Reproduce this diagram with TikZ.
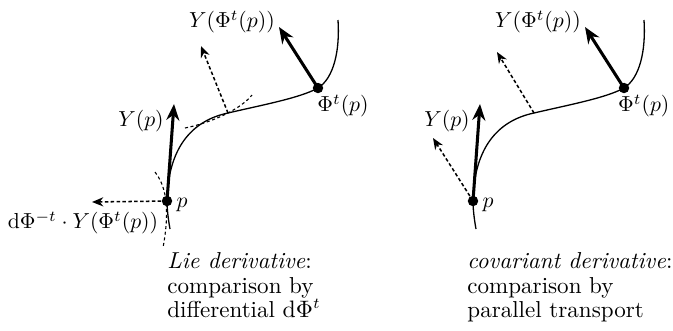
\documentclass[tikz,border=0pt]{standalone}
\usepackage{amsmath,amssymb}
\usepackage{tikz}
\usetikzlibrary{arrows.meta,calc}
\tikzset{
  flowline/.style={line width=0.6pt},
  vecarrow/.style={line width=1.4pt,-{Stealth[length=7.5pt,width=6pt]}},
  cmparrow/.style={line width=0.7pt,dash pattern=on 1.6pt off 1.1pt,-{Stealth[length=5.2pt,width=4.2pt]}},
  auxcurve/.style={line width=0.5pt,dash pattern=on 1.4pt off 1.2pt},
  dotpt/.style={circle,fill,inner sep=0pt,minimum size=4.8pt},
  caption/.style={anchor=north west,inner sep=0pt,align=left,font=\fontsize{10.6}{11.3}\selectfont},
}

\begin{document}
\begin{tikzpicture}[x=0.46pt,y=-0.46pt]
        \useasboundingbox (0,0) rectangle (673,330);
        % gemeinsamer Teil: Kurve, Punkte, Vektorfeld Y
        \foreach \dx/\s in {0/L,306/R}{
          \begin{scope}[shift={(\dx,0)}]
            \node[dotpt] (p\s) at (167,201) {};
            \node[dotpt] (q\s) at (318,88) {};
            \coordinate (m\s) at (228,113);
            \coordinate (yp\s) at (174,104);
            \coordinate (yq\s) at (279,27);
            \draw[flowline] (170,229) .. controls (168,218) and (167,208) .. (p\s.center)
              .. controls (168,150) and (190,121) .. (m\s)
              .. controls (262,105) and (300,98) .. (q\s.center)
              .. controls (334,78) and (340,50) .. (338,20);
            \draw[vecarrow] (p\s.center) -- (yp\s);
            \draw[vecarrow] (q\s.center) -- (yq\s);
            \node (lp\s) at (141,121) {$Y(p)$};
            \node (lq\s) at (232,22) {$Y(\Phi^t(p))$};
            \node (lpp\s) at (182,205) {$p$};
          \end{scope}
        }
        \node (lphiL) at (343,106) {$\Phi^t(p)$};
        \node[anchor=east,inner sep=1pt] (lphiR) at (672,106) {$\Phi^t(p)$};
        % links: Lie-Ableitung
        \draw[auxcurve] (155,172) .. controls (171,192) and (167,225) .. (163,248);
        \draw[auxcurve] (185,128) .. controls (210,123) and (240,110) .. (252,95);
        \coordinate (lieL) at (201,46);
        \coordinate (backL) at (92,202);
        \draw[cmparrow] (mL) -- (lieL);
        \draw[cmparrow] (pL.center) -- (backL);
        \node (ldphi) at (83,223) {$\mathrm{d}\Phi^{-t}\cdot Y(\Phi^t(p))$};
        \node[caption] (capL) at (167,252) {\textit{Lie derivative}:\\comparison by\\differential $\mathrm{d}\Phi^t$};
        % rechts: Paralleltransport
        \coordinate (ptmR) at (497,52);
        \coordinate (ptpR) at (433,138);
        \draw[cmparrow] (mR) -- (ptmR);
        \draw[cmparrow] (pR.center) -- (ptpR);
        \node[caption] (capR) at (467,252) {\textit{covariant derivative}:\\comparison by\\parallel transport};
      \end{tikzpicture}
\end{document}
